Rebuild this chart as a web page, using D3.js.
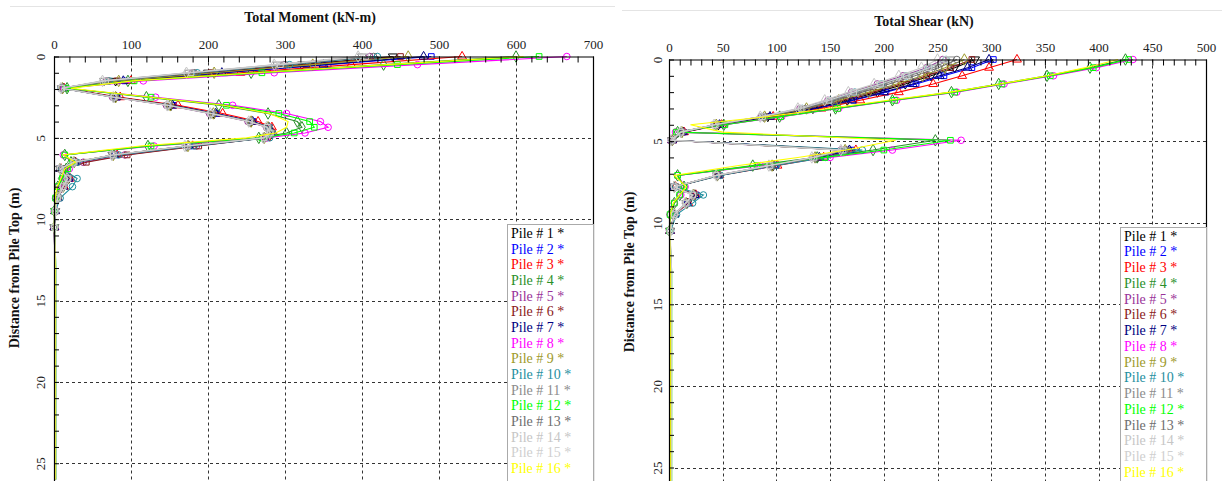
<!DOCTYPE html>
<html><head><meta charset="utf-8">
<script src="https://cdn.jsdelivr.net/npm/d3@7"></script>
<style>
body{margin:0;background:#fff;}
svg{display:block;}
text{font-family:"Liberation Serif","Times New Roman",serif;}
</style>
</head><body>
<svg id="c" width="1222" height="481"></svg>
<script>
// ---------- data ----------
const pileNames = ["Pile # 1","Pile # 2","Pile # 3","Pile # 4","Pile # 5","Pile # 6","Pile # 7","Pile # 8",
  "Pile # 9","Pile # 10","Pile # 11","Pile # 12","Pile # 13","Pile # 14","Pile # 15","Pile # 16"];
const pileColors = ["#000000","#0000ff","#ff0000","#2a8f2a","#993399","#8b1a1a","#000080","#ff00ff",
  "#9e9a2c","#1f8f9f","#8c8c8c","#00ff00","#6e6e6e","#c6c6c6","#cfcfcf","#ffff00"];
const pileMarkers = ["triDown","square","triangle","diamond","circle","square","triangle","circle",
  "diamond","circle","triDown","square","circle","diamond","square","none"];

const momentTicks = [0,100,200,300,400,500,600,700];
const shearTicks = [0,50,100,150,200,250,300,350,400,450,500];
const depthTicks = [0,5,10,15,20,25];

// depth (m) of each moment reading
const momentDepth = [0,0.5,1,1.5,1.95,2.5,3,3.5,4,4.35,4.7,5,5.5,6.05,6.5,6.9,7.5,8,8.7,9.5,10.5,13,18,26];
const momentP1  = [440,322,200,80,11,80,152,208,256,278,281,272,172,76,26,8,19,12,5,1.5,0.5,1,1,1];
const momentP2  = [490,356,222,92,12,82,155,211,259,279,283,274,176,79,27,8,20,13,5,1.5,0.5,1,1,1];
const momentP3  = [530,386,242,100,13,86,161,219,265,283,285,276,180,82,28,9,21,13,5,1.5,0.5,1,1,1];
const momentP4  = [600,428,256,96,17,120,214,278,316,322,302,266,122,14,22,16,10,5,2,0.5,0.5,1.5,1.5,1.5];
const momentP5  = [410,298,180,68,9,76,146,202,252,276,281,274,185,92,38,12,16,11,4,1.5,0.5,1,1,1];
const momentP6  = [450,328,204,82,10,79,150,206,254,277,282,275,188,95,42,14,17,11,4,1.5,0.5,1,1,1];
const momentP7  = [480,350,218,90,12,81,154,210,258,279,282,273,175,78,27,8,19,12,5,1.5,0.5,1,1,1];
const momentP8  = [666,472,286,116,13,132,232,302,346,356,326,276,130,12,25,20,12,6,2,0.5,0.5,1.5,1.5,1.5];
const momentP9  = [460,336,208,84,11,80,151,207,256,278,281,273,174,77,26,8,18,12,5,1.5,0.5,1,1,1];
const momentP10 = [420,306,186,72,9,78,149,205,255,279,284,280,182,84,30,10,30,24,8,2,0.5,1,1,1];
const momentP11 = [400,290,175,65,10,78,148,204,254,277,281,273,172,76,26,8,18,12,5,1.5,0.5,2,2,2];
const momentP12 = [630,446,270,104,15,126,224,292,332,338,312,270,126,14,24,18,11,5,2,0.5,0.5,2.5,2.5,2.5];
const momentP13 = [415,300,182,70,10,79,149,205,255,278,282,274,174,78,27,9,18,12,5,1.5,0.5,2,2,2];
const momentP14 = [395,286,172,63,9,77,147,203,253,276,280,272,170,75,25,8,17,11,4,1.5,0.5,2.5,2.5,2.5];
const momentP15 = [405,294,178,67,10,78,148,204,254,277,281,273,173,77,26,8,18,12,5,1.5,0.5,2,2,2];
const momentP16 = [610,432,262,102,22,126,220,280,304,302,288,250,112,12,28,14,9,4,1.5,0.5,0.5,1.5,1.5,1.5];

// depth (m) of each shear reading
const shearDepth = [0,0.5,1,1.5,2,2.5,3,3.5,4,4.45,4.95,5.55,6,6.5,7.1,7.8,8.3,8.8,9.5,10.5,13,18,26];
const shearP1  = [285,266,244,220,194,166,134,92,46,12,3,166,138,97,45,5,24,17,5,1,1,1,1];
const shearP2  = [302,282,256,230,202,172,138,95,48,13,3,170,141,99,46,5,25,17,5,1,1,1,1];
const shearP3  = [324,298,273,246,214,178,142,97,49,14,3,174,144,101,47,6,25,18,5,1,1,1,1];
const shearP4  = [425,392,352,307,263,208,155,103,51,8,248,190,138,78,8,14,10,5,1,0.5,1.5,1.5,1.5];
const shearP5  = [255,240,218,194,170,148,122,86,42,11,2,160,134,94,44,5,22,16,5,1,1,1,1];
const shearP6  = [282,262,240,216,190,162,130,90,45,12,3,165,137,96,46,6,23,16,5,1,1,1,1];
const shearP7  = [298,278,252,227,200,170,136,94,47,13,3,168,140,98,46,5,24,17,5,1,1,1,1];
const shearP8  = [432,398,358,312,268,212,158,105,52,6,272,208,150,85,8,15,11,5,1,0.5,1.5,1.5,1.5];
const shearP9  = [275,257,236,212,186,158,128,89,44,12,3,164,136,96,45,5,23,16,5,1,1,1,1];
const shearP10 = [258,242,221,198,173,150,124,87,43,11,3,180,146,100,48,6,32,22,7,1.5,1,1,1];
const shearP11 = [262,246,224,200,176,152,125,88,43,11,3,164,136,95,45,5,23,16,5,1,2,2,2];
const shearP12 = [428,395,355,310,266,210,157,104,52,7,262,200,145,82,8,14,10,5,1,0.5,2.5,2.5,2.5];
const shearP13 = [268,251,229,205,180,155,127,89,44,12,3,165,137,96,45,5,23,16,5,1,2,2,2];
const shearP14 = [250,235,214,191,167,145,120,85,42,11,2,160,133,93,44,5,22,15,5,1,2.5,2.5,2.5];
const shearP15 = [258,242,221,197,172,149,123,87,43,11,3,162,135,94,44,5,22,16,5,1,2,2,2];
const shearP16 = [418,388,352,308,262,204,148,92,20,50,211,165,120,65,5,16,10,4,1,0.5,1.5,1.5,1.5];

const momentSeries = [momentP1,momentP2,momentP3,momentP4,momentP5,momentP6,momentP7,momentP8,
  momentP9,momentP10,momentP11,momentP12,momentP13,momentP14,momentP15,momentP16];
const shearSeries = [shearP1,shearP2,shearP3,shearP4,shearP5,shearP6,shearP7,shearP8,
  shearP9,shearP10,shearP11,shearP12,shearP13,shearP14,shearP15,shearP16];

// ---------- drawing ----------
const svg = d3.select("#c");

svg.append("line").attr("x1",10).attr("x2",615).attr("y1",6.5).attr("y2",6.5).attr("stroke","#e4e4e4");
svg.append("line").attr("x1",622).attr("x2",1222).attr("y1",10.5).attr("y2",10.5).attr("stroke","#e4e4e4");

function triDown(size){
  const s = Math.sqrt(size*4/Math.sqrt(3));
  const h = s*Math.sqrt(3)/2;
  return `M${-s/2},${-h/3}L${s/2},${-h/3}L0,${2*h/3}Z`;
}
function markerPath(kind){
  if(kind==="circle") return d3.symbol(d3.symbolCircle,34)();
  if(kind==="square") return d3.symbol(d3.symbolSquare,32)();
  if(kind==="triangle") return d3.symbol(d3.symbolTriangle,34)();
  if(kind==="diamond") return d3.symbol(d3.symbolDiamond,38)();
  if(kind==="triDown") return triDown(34);
  return null;
}

function panel(cfg){
  const g = svg.append("g");
  const x = d3.scaleLinear().domain(cfg.xDomain).range([cfg.left, cfg.right]);
  const y = d3.scaleLinear().domain([0,26]).range([cfg.top, cfg.top + 26*cfg.pxPerM]);
  const bottom = 485;

  g.append("text").attr("x",cfg.titleX).attr("y",cfg.titleY).attr("text-anchor","middle")
    .attr("font-weight","bold").attr("font-size",14).attr("fill","#111").text(cfg.title);
  g.append("text").attr("transform",`translate(${cfg.yTitleX},${cfg.yTitleY}) rotate(-90)`)
    .attr("text-anchor","middle").attr("font-weight","bold").attr("font-size",14).attr("fill","#111")
    .text("Distance from Pile Top (m)");

  const gx = cfg.xTicks.filter(v=>v>cfg.xDomain[0] && v<cfg.xDomain[1]);
  g.append("g").selectAll("line").data(gx).join("line")
    .attr("x1",d=>Math.round(x(d))+0.5).attr("x2",d=>Math.round(x(d))+0.5)
    .attr("y1",cfg.top).attr("y2",bottom)
    .attr("stroke","#333").attr("stroke-dasharray","3,3");
  g.append("g").selectAll("line").data(depthTicks.filter(d=>d>0)).join("line")
    .attr("y1",d=>Math.round(y(d))+0.5).attr("y2",d=>Math.round(y(d))+0.5)
    .attr("x1",cfg.left).attr("x2",cfg.right)
    .attr("stroke","#333").attr("stroke-dasharray","3,3");

  const line = d3.line().x(d=>x(d[1])).y(d=>y(d[0]));
  cfg.series.forEach((vals,i)=>{
    const pts = cfg.depth.map((d,k)=>[d, vals[k]]);
    g.append("path").attr("d",line(pts)).attr("fill","none")
      .attr("stroke",pileColors[i]).attr("stroke-width",1.1);
    const mp = markerPath(pileMarkers[i]);
    if(mp){
      g.append("g").selectAll("path").data(pts.filter(p=>p[0]<=10.5)).join("path")
        .attr("d",mp).attr("transform",p=>`translate(${x(p[1])},${y(p[0])})`)
        .attr("fill","none").attr("stroke",pileColors[i]).attr("stroke-width",1);
    }
  });

  g.append("path").attr("d",`M${cfg.left+0.5},${bottom}V${cfg.top+0.5}H${cfg.right+0.5}V${bottom}`)
    .attr("fill","none").attr("stroke","#000").attr("stroke-width",1.2);

  const minor = d3.range(cfg.xDomain[0], cfg.xDomain[1]+0.001, cfg.minorStep);
  const axTicks = g.append("g").attr("transform",`translate(0,${cfg.top})`)
    .call(d3.axisTop(x).tickValues(minor).tickSize(-6).tickFormat(""));
  axTicks.select(".domain").remove();
  axTicks.selectAll("line").attr("stroke","#000");
  const axLab = g.append("g").attr("transform",`translate(0,${cfg.top})`)
    .call(d3.axisTop(x).tickValues(cfg.xTicks).tickSize(0).tickPadding(8).tickFormat(d3.format("d")));
  axLab.select(".domain").remove();
  axLab.selectAll("text").attr("font-size",13).attr("fill","#222");

  const ayT = g.append("g").attr("transform",`translate(${cfg.left},0)`)
    .call(d3.axisLeft(y).tickValues(d3.range(0,26,1)).tickSize(-5).tickFormat(""));
  ayT.select(".domain").remove();
  ayT.selectAll("line").attr("stroke","#000");
  const ayL = g.append("g").attr("transform",`translate(${cfg.left},0)`)
    .call(d3.axisLeft(y).tickValues(depthTicks).tickSize(0).tickFormat(d3.format("d")));
  ayL.select(".domain").remove();
  ayL.selectAll("text").attr("x",0).attr("y",cfg.yLabOff).attr("dy",0)
    .attr("text-anchor","middle").attr("transform","rotate(-90)")
    .attr("font-size",13).attr("fill","#222");

  const lg = g.append("g");
  lg.append("rect").attr("x",cfg.legX+0.5).attr("y",cfg.legY+0.5).attr("width",cfg.right-cfg.legX)
    .attr("height",bottom-cfg.legY).attr("fill","#fff").attr("stroke","#aaa");
  lg.selectAll("text").data(pileNames).join("text")
    .attr("x",cfg.legX+4).attr("y",(d,i)=>cfg.legFirst + i*cfg.legStep)
    .attr("font-size",14).attr("fill",(d,i)=>pileColors[i])
    .text(d=>d+" *");
}

panel({
  title:"Total Moment (kN-m)", titleX:310, titleY:22,
  yTitleX:19, yTitleY:268,
  xDomain:[0,700], xTicks:momentTicks, minorStep:20,
  left:54, right:593, top:56.5, pxPerM:16.27,
  yLabOff:-9,
  depth:momentDepth, series:momentSeries,
  legX:507, legY:224, legFirst:238, legStep:15.67
});
panel({
  title:"Total Shear (kN)", titleX:924, titleY:26,
  yTitleX:634, yTitleY:272,
  xDomain:[0,500], xTicks:shearTicks, minorStep:10,
  left:669, right:1206, top:59.5, pxPerM:16.32,
  yLabOff:-7,
  depth:shearDepth, series:shearSeries,
  legX:1120, legY:227, legFirst:240.7, legStep:15.75
});
</script>
</body></html>
